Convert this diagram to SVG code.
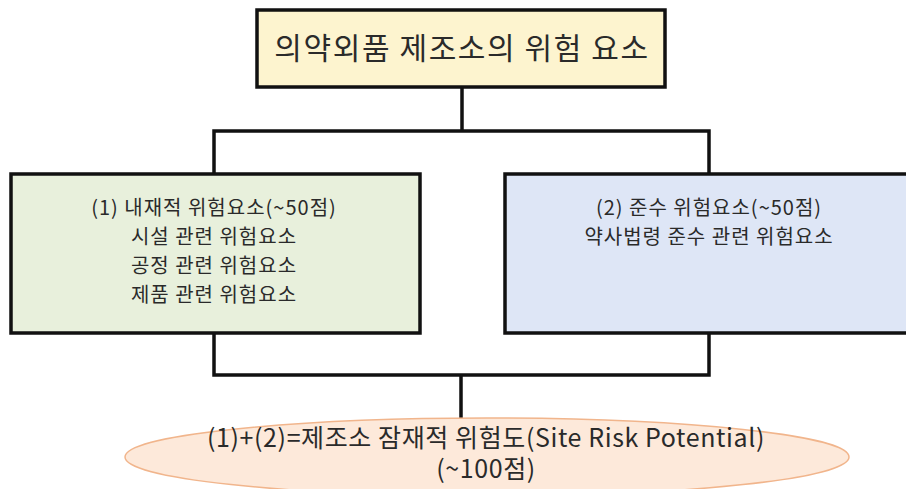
<svg xmlns="http://www.w3.org/2000/svg" width="906" height="489" viewBox="0 0 906 489">
<style>
.box{stroke:#111;stroke-width:3.5}
.t{font-family:"Noto Sans CJK KR","Noto Sans",sans-serif;fill:#2a2a2a;text-anchor:middle}
.m{font-size:20px;letter-spacing:1px}
.c{fill:none;stroke:#111;stroke-width:3.5;stroke-linecap:square}
</style>
<rect width="906" height="489" fill="#fff"/>
<g id="connectors">
<path class="c" d="M462 87V131M214 131H709M214 131V174M709 131V174"/>
<path class="c" d="M214 333V375M709 333V375M214 375H709M461 375V418"/>
</g>
<g id="top">
<rect class="box" x="257" y="10" width="408" height="77" fill="#fdf4cf"/>
<text class="t" x="462" y="59" font-size="30" letter-spacing="1.6">의약외품 제조소의 위험 요소</text>
</g>
<g id="inherent">
<rect class="box" x="11" y="174" width="409" height="159" fill="#e8f0dc"/>
<text class="t m" x="214" y="215">(1) 내재적 위험요소(~50점)</text>
<text class="t m" x="214" y="244">시설 관련 위험요소</text>
<text class="t m" x="214" y="273">공정 관련 위험요소</text>
<text class="t m" x="214" y="302">제품 관련 위험요소</text>
</g>
<g id="compliance">
<rect class="box" x="505" y="174" width="410" height="159" fill="#dee6f6"/>
<text class="t m" x="709" y="215">(2) 준수 위험요소(~50점)</text>
<text class="t m" x="709" y="244">약사법령 준수 관련 위험요소</text>
</g>
<g id="result">
<ellipse cx="487" cy="457" rx="362" ry="39" fill="#fde9da" stroke="#f1b58c" stroke-width="1.5"/>
<text class="t" font-size="25" letter-spacing="0.6"><tspan x="486" y="447">(1)+(2)=제조소 잠재적 위험도(Site Risk Potential)</tspan><tspan x="486" y="478">(~100점)</tspan></text>
</g>
</svg>
